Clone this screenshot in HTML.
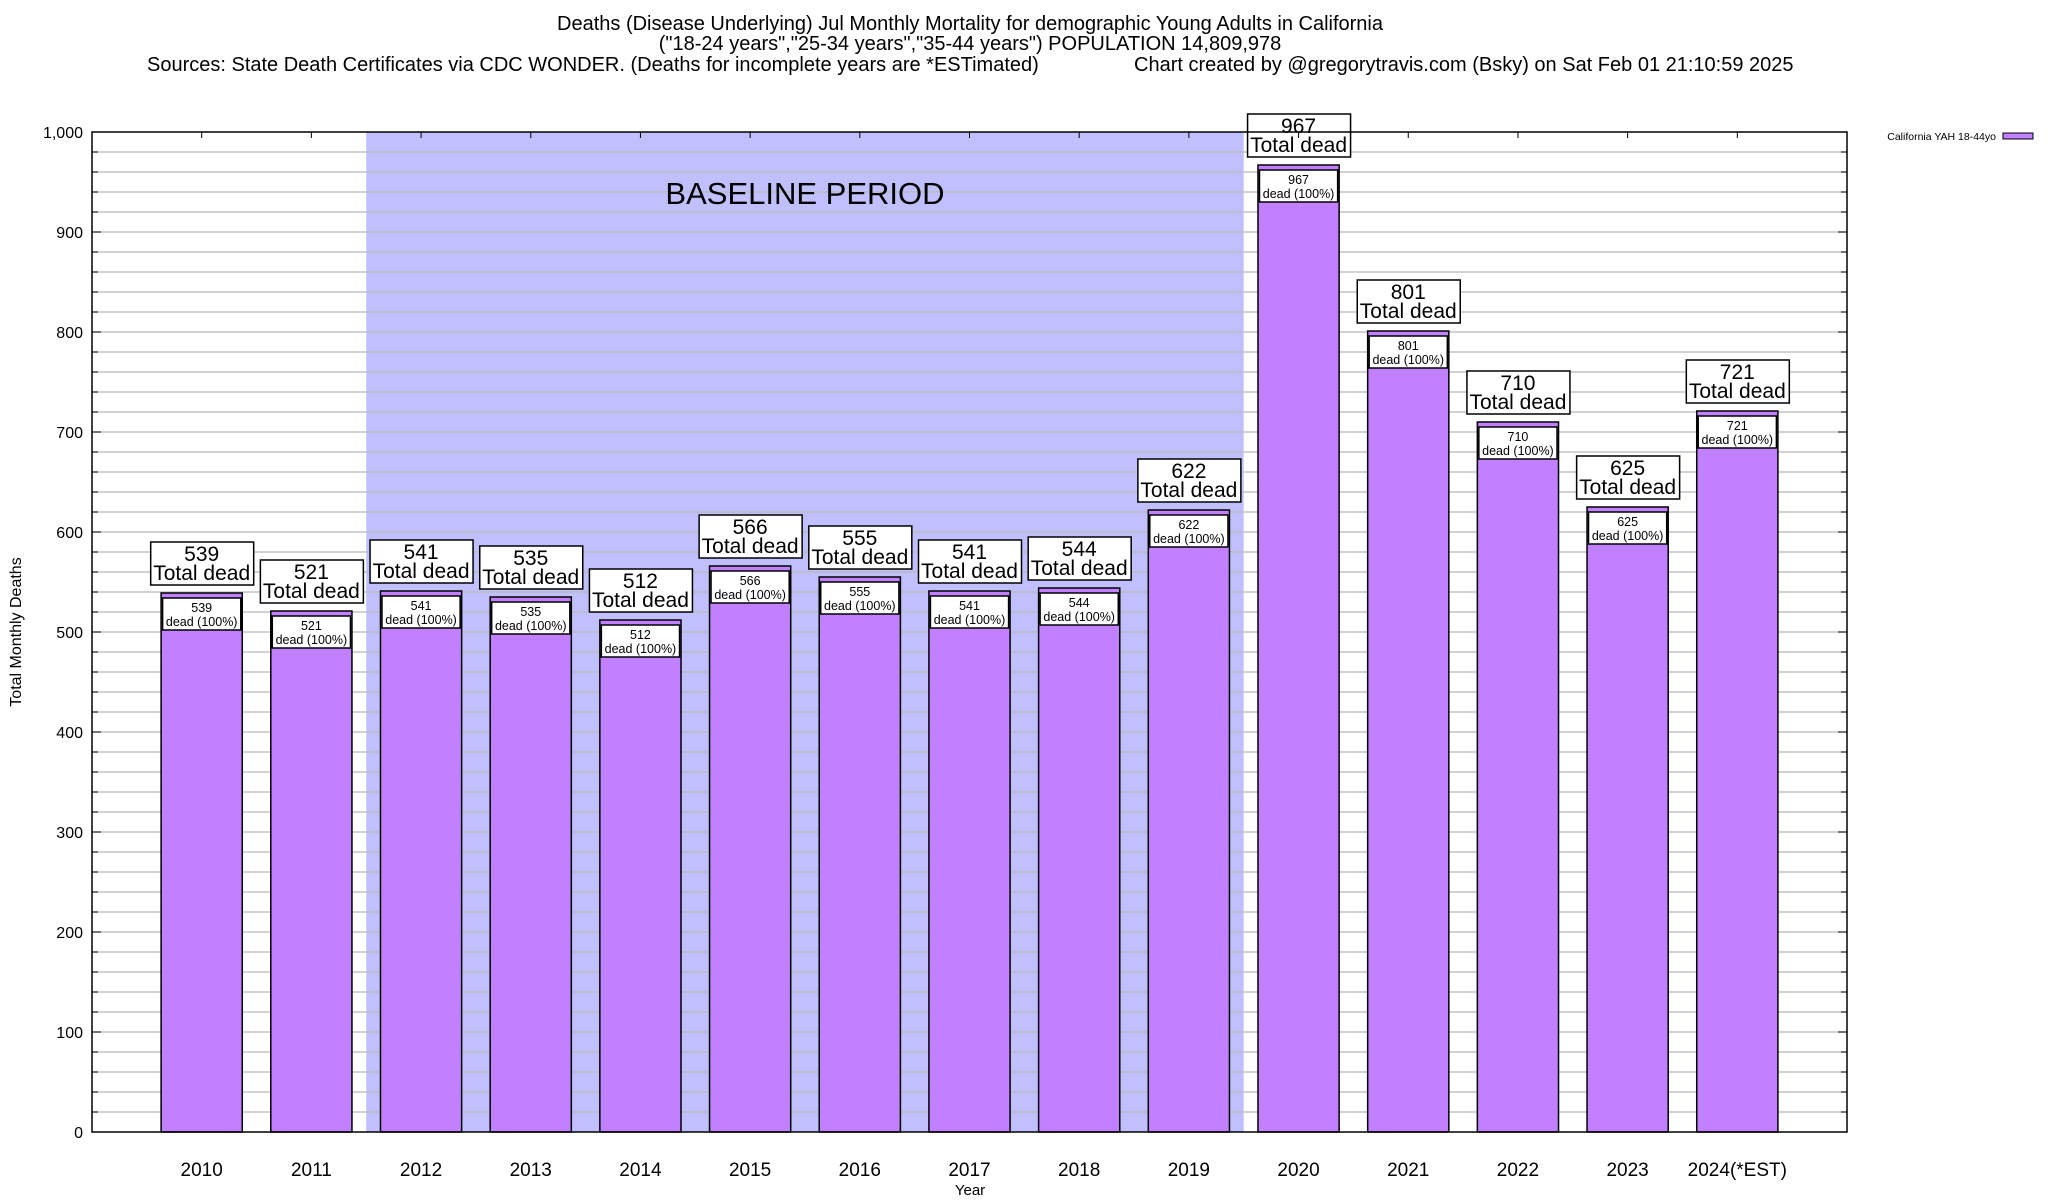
<!DOCTYPE html>
<html><head><meta charset="utf-8"><style>
html,body{margin:0;padding:0;background:#fff;}
svg{display:block;font-family:"Liberation Sans",Arial,sans-serif;}
</style></head><body>
<svg id="chart" width="2048" height="1200" viewBox="0 0 2048 1200" xmlns="http://www.w3.org/2000/svg">
<g font-size="20" fill="#000">
<text x="970" y="30" text-anchor="middle">Deaths (Disease Underlying) Jul Monthly Mortality for demographic Young Adults in California</text>
<text x="970" y="50" text-anchor="middle">("18-24 years","25-34 years","35-44 years") POPULATION 14,809,978</text>
<text x="147" y="71">Sources: State Death Certificates via CDC WONDER. (Deaths for incomplete years are *ESTimated)</text>
<text x="1134" y="71">Chart created by @gregorytravis.com (Bsky) on Sat Feb 01 21:10:59 2025</text>
</g>
<g id="plot"></g>
</svg>
<script>
const categories = ["2010","2011","2012","2013","2014","2015","2016","2017","2018","2019","2020","2021","2022","2023","2024(*EST)"];
const deaths = [539,521,541,535,512,566,555,541,544,622,967,801,710,625,721];
const yTicks = [0,100,200,300,400,500,600,700,800,900,1000];
const yTickLabels = ["0","100","200","300","400","500","600","700","800","900","1,000"];
const baselineStart = 1.5, baselineEnd = 9.5;

const NS = "http://www.w3.org/2000/svg";
const L = 92, R = 1847, T = 132, B = 1132;
const xMin = -1, xMax = 15, yMin = 0, yMax = 1000;
function xs(v){ return L + (v - xMin) / (xMax - xMin) * (R - L); }
function ys(v){ return B - (v - yMin) / (yMax - yMin) * (B - T); }
const plot = document.getElementById('plot');
function mk(tag, attrs, parent, text){
  const e = document.createElementNS(NS, tag);
  for (const k in attrs) e.setAttribute(k, attrs[k]);
  if (text !== undefined) e.textContent = text;
  (parent || plot).appendChild(e);
  return e;
}

// baseline shading
const shade = mk('rect', {x: xs(baselineStart), y: T, width: xs(baselineEnd) - xs(baselineStart), height: B - T, fill: '#c0c0ff'});



// gridlines every 20
for (let v = 20; v < yMax; v += 20) {
  const g = mk('line', {x1: L, x2: R, y1: ys(v), y2: ys(v), stroke: '#b8b8b8', 'stroke-width': 1.3});
  
  
  mk('line', {x1: L, x2: L + 6, y1: ys(v), y2: ys(v), stroke: '#000', 'stroke-width': 1});
  mk('line', {x1: R - 6, x2: R, y1: ys(v), y2: ys(v), stroke: '#000', 'stroke-width': 1});
}
const bl = mk('text', {x: (xs(baselineStart) + xs(baselineEnd)) / 2, y: 204, 'text-anchor': 'middle', 'font-size': 31}, plot, 'BASELINE PERIOD');



// y ticks & labels
yTicks.forEach((v, i) => {
  mk('line', {x1: L, x2: L + 9, y1: ys(v), y2: ys(v), stroke: '#000', 'stroke-width': 1});
  mk('line', {x1: R - 9, x2: R, y1: ys(v), y2: ys(v), stroke: '#000', 'stroke-width': 1});
  const t = mk('text', {x: L - 9, y: ys(v) + 6, 'text-anchor': 'end', 'font-size': 16}, plot, yTickLabels[i]);
  
  
});

// bars
const bw = 0.74;
categories.forEach((c, i) => {
  const v = deaths[i];
  const x0 = xs(i - bw / 2), x1 = xs(i + bw / 2), cx = xs(i);
  const bar = mk('rect', {x: x0, y: ys(v), width: x1 - x0, height: B - ys(v), fill: '#c080ff', stroke: '#000', 'stroke-width': 1.5});
  
  
  const ib = mk('rect', {x: x0 + 1.5, y: ys(v) + 5, width: x1 - x0 - 3, height: 32, fill: '#fff', stroke: '#000', 'stroke-width': 1.5});
  
  
  const it1 = mk('text', {x: cx, y: ys(v) + 19, 'text-anchor': 'middle', 'font-size': 12.5}, plot, String(v));
  
  
  const it2 = mk('text', {x: cx, y: ys(v) + 33, 'text-anchor': 'middle', 'font-size': 12.5}, plot, 'dead (100%)');
  
  
  const bx = mk('rect', {x: cx - 51, y: ys(v) - 51, width: 103, height: 43, fill: '#fff', stroke: '#000', 'stroke-width': 1.5});
  
  
  const t1 = mk('text', {x: cx, y: ys(v) - 32, 'text-anchor': 'middle', 'font-size': 21}, plot, String(v));
  
  
  const t2 = mk('text', {x: cx, y: ys(v) - 13, 'text-anchor': 'middle', 'font-size': 21}, plot, 'Total dead');
  
  
  const xl = mk('text', {x: cx, y: 1176, 'text-anchor': 'middle', 'font-size': 19}, plot, c);
  
  
  mk('line', {x1: cx, x2: cx, y1: T, y2: T + 6, stroke: '#000', 'stroke-width': 1});
});

const frame = mk('rect', {x: L, y: T, width: R - L, height: B - T, fill: 'none', stroke: '#000', 'stroke-width': 1.5});



const yt = mk('text', {x: 0, y: 0, 'text-anchor': 'middle', 'font-size': 16, transform: 'translate(21,632) rotate(-90)'}, plot, 'Total Monthly Deaths');


const xt = mk('text', {x: 970, y: 1195, 'text-anchor': 'middle', 'font-size': 15}, plot, 'Year');



const lg = mk('text', {x: 1996, y: 140, 'text-anchor': 'end', 'font-size': 10.5}, plot, 'California YAH 18-44yo');


const sw = mk('rect', {x: 2003, y: 133, width: 30, height: 6, fill: '#c080ff', stroke: '#000', 'stroke-width': 1});


</script>
</body></html>
